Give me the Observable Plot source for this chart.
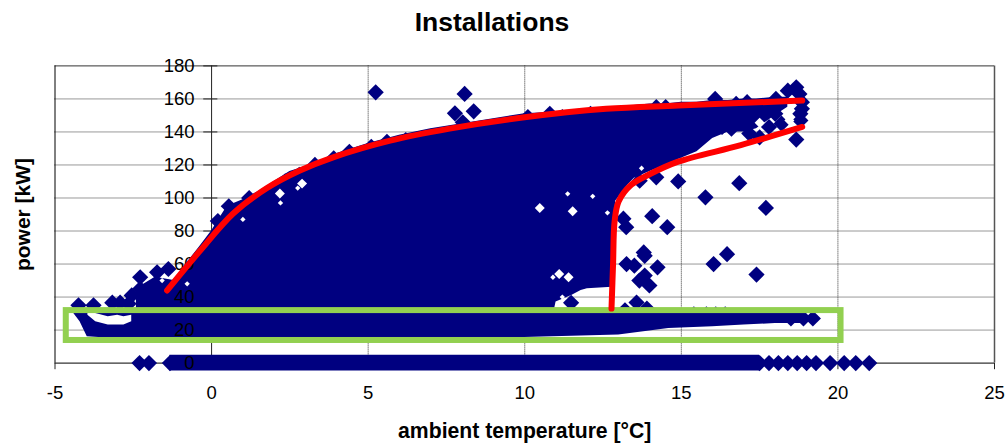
<!DOCTYPE html>
<html><head><meta charset="utf-8">
<script src="https://cdn.jsdelivr.net/npm/d3@7"></script>
<script src="https://cdn.jsdelivr.net/npm/@observablehq/plot@0.6"></script>
<style>
html,body{margin:0;padding:0;background:#fff}
#title{height:50px;box-sizing:border-box;padding-top:7px;text-align:center;font:bold 26.5px "Liberation Sans",Arial,sans-serif;color:#000;width:984px}
svg{display:block}
</style></head><body>
<div id="title">Installations</div>
<div id="chart"></div>
<script>
const xTicks = [-5,0,5,10,15,20,25];
const yTicks = [0,20,40,60,80,100,120,140,160,180];
const yGrid = [20,40,60,80,100,120,140,160];
const xGrid = [5,10,15,20];

// dense mass of the scatter: envelope per temperature
const massX   = [-2.4,-1.8,-1.2,-0.9,-0.4,0,0.5,1,1.5,2,2.5,3,3.5,4,4.5,5,6,7,8,9,10,10.9,11,11.5,11.8,12,12.8,12.9,13.3,13.5,14,14.5,15,15.5,16,16.5,17,17.4,18,18.4];
const massTop = [45,52,50,58,70,80,95,99,104,110,116,119,122,127,130,133,138,142,145,148,151,152,152,153,153,154,155,155,156,156,157,157,158,158,159,159,160,160,161,161];
const massLow = [28,28,28,28,28,28,28,28,28,28,28,28,28,28,28,28,28,28,28,28,28,28,37,41,44,45,46,98,108,112,116,120,124,128,136,140,140,142,150,155];

// band of part-load operation
const bandX   = [-4.4,-4.2,-3.97,-3.6,-3,-2,0,5,10,13,14.6,16,17,18,19];
const bandTop = [30,33,33,33,33,33,33,33,33,33,33,31,31,31,30];
const bandLow = [30,25,16,15.5,15.5,15.5,15.5,15.5,15.5,17,21,22,23,24,24];

// white pocket inside the band at the cold end
const pocketX   = [-3.95,-3.7,-3.3,-3,-2.8,-2.55];
const pocketTop = [30,30,28,29,28,29];
const pocketLow = [29,25,23,23,23,25];

// row of idle readings at zero power
const idleX = [-1.33,17.5];
const idleEndX = [-2.3,-2.0,-1.33,17.5,17.8,18.1,18.4,18.7,19,19.3,19.75,20.2,20.57,21];

// individually visible readings
const pointsX = [5.24,8.08,7.77,8.37,8.02,14.9,16.85,15.77,17.7,14.07,14.55,13.15,13.24,18.67,13.8,16.46,16.03,17.4,13.67,14.2,
 13.25,13.83,14.24,13.83,13.98,13.57,13.5,13.66,11.48,
 18.67,18.77,18.85,18.85,18.8,18.8,16.08,17.1,18.02,18.4,16.75,14.5,17.17,17.5,17.8,18.2,16.6,16.3,18,
 -4.25,-3.77,-3.17,-2.92,-2.28,-1.74,-1.38,-2.28,-1.95,-2.55,-2.65,19.2,18.9,18.5,13.2,13.9,15.4,15.8,16.1,16.4,
 0.2,0.55,1.2,1.8,2.35,2.8,3.3,3.9,4.4,5.1,5.6,6.2,7,9,10.1,10.8,11.2,12.1,14.2];
const pointsY = [164,163,151.3,152.5,145.8,110,109,100.4,94,89,82.3,87.5,82.3,135.4,67,66,60,53.6,110.5,112.5,
 60,65,58,53,47,36.7,59,50,36.5,
 167,163,158,154,151,147,160,158,160,165,157,155,139,136.7,143,145,142,143,151,
 35,35,36.6,36.6,52,55,57,45,45,41,36,27,27,27,32,33,29.5,29.5,29.5,29.5,
 86,95,100,103,110,114,120,124,128,131,134,135,137,141,149,151,149,151,155];

// small gaps in the mass, shown as paper
const holesX = [11.37,12.17,12.64,13.73,2.75,2.2,1.0,-1.58,-0.78,10.9,11.2];
const holesY = [102.5,101,91,118,106,97,87,50,48,52,40];
const holesWideX = [2.89,2.18,11.1,11.4,17.5,18.45,16.75,10.48,11.53];
const holesWideY = [108.7,102.7,54,52,145.6,147,135,94,92];

const boxX = [-4.64,20.1], boxY = [13.7,31.8];

const upperX = [-1.42,-0.37,0.69,1.77,2.82,3.88,5.7,7.6,9.93,12.6,14.9,18.86];
const upperY = [44,68,90.6,106,116.6,124.6,134.7,142,148.7,154,156,159];
const lowerX = [12.77,12.82,12.87,13.0,13.4,14.0,14.9,16.9,18.86];
const lowerY = [33,60,86,98,108,114.5,122,132,143];

const table = (xs,a,b)=>xs.map((x,i)=>({x,a:a[i],b:b?b[i]:undefined}));
const font = '"Liberation Sans",Arial,sans-serif';
const NAVY = "#000080";

document.getElementById("chart").appendChild(Plot.plot({
  width:1008, height:394,
  marginLeft:54.5, marginRight:14, marginTop:15.4, marginBottom:81.4,
  x:{domain:[-5,25],axis:null}, y:{domain:[0,180],axis:null},
  style:{fontFamily:font, background:"#fff"},
  marks:[
    Plot.ruleY(yGrid,{stroke:"#333",strokeWidth:1,strokeDasharray:"1,1"}),
    Plot.ruleY([180],{stroke:"#333",strokeWidth:1}),
    Plot.ruleX(xGrid,{stroke:"#333",strokeWidth:1,strokeDasharray:"1,1"}),
    Plot.ruleX([25],{stroke:"#555",strokeWidth:1.5}),
    Plot.ruleX([-5],{stroke:"#000",strokeWidth:1}),
    Plot.ruleX([0],{stroke:"#222",strokeWidth:1}),
    Plot.ruleY([0],{stroke:"#000",strokeWidth:1}),
    Plot.ruleX(xTicks,{x:d=>d,y1:0,y2:-4,stroke:"#222",strokeWidth:1}),
    Plot.ruleY(yTicks,{y:d=>d,x1:-0.25,x2:0.2,stroke:"#222",strokeWidth:1}),

    Plot.areaY(table(massX,massTop,massLow),{x:"x",y1:"b",y2:"a",fill:NAVY}),
    Plot.areaY(table(bandX,bandTop,bandLow),{x:"x",y1:"b",y2:"a",fill:NAVY}),
    Plot.areaY(table(idleX,[4.8,4.8],[-4.8,-4.8]),{x:"x",y1:"b",y2:"a",fill:NAVY}),
    Plot.dot(table(idleEndX,idleEndX.map(()=>0)),{x:"x",y:"a",symbol:"diamond2",r:7.3,fill:NAVY}),
    Plot.dot(table(pointsX,pointsY),{x:"x",y:"a",symbol:"diamond2",r:7.3,fill:NAVY}),
    Plot.areaY(table(pocketX,pocketTop,pocketLow),{x:"x",y1:"b",y2:"a",fill:"#fff"}),
    Plot.dot(table(holesX,holesY),{x:"x",y:"a",symbol:"diamond2",r:2.4,fill:"#fff"}),
    Plot.dot(table(holesWideX,holesWideY),{x:"x",y:"a",symbol:"diamond2",r:4.5,fill:"#fff"}),

    Plot.rect([0],{x1:boxX[0],x2:boxX[1],y1:boxY[0],y2:boxY[1],fill:"none",stroke:"#92d050",strokeWidth:6}),

    Plot.text(yTicks,{x:0,y:d=>d,text:d=>String(d),dx:-17,textAnchor:"end",fontSize:18.5,fill:"#000"}),
    Plot.text(xTicks,{x:d=>d,y:0,text:d=>String(d),dy:30,fontSize:18.5,fill:"#000"}),

    Plot.line(table(upperX,upperY),{x:"x",y:"a",stroke:"#ff0000",strokeWidth:6,curve:"catmull-rom"}),
    Plot.line(table(lowerX,lowerY),{x:"x",y:"a",stroke:"#ff0000",strokeWidth:6,curve:"catmull-rom"}),

    Plot.text(["ambient temperature [°C]"],{frameAnchor:"bottom",dy:75,x:10,text:d=>d,fontSize:21.2,fontWeight:"bold",fill:"#000"}),
    Plot.text(["power [kW]"],{frameAnchor:"left",dx:-32,rotate:-90,textAnchor:"middle",text:d=>d,fontSize:21,fontWeight:"bold",fill:"#000"})
  ]
}));
</script>
</body></html>
